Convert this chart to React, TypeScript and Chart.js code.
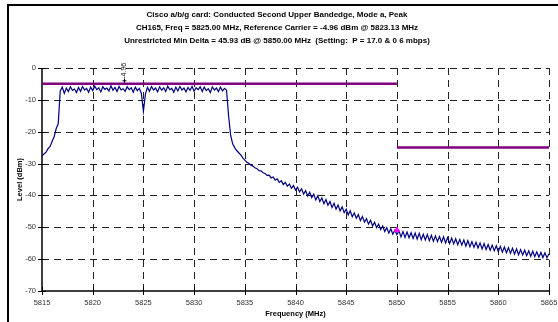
import React, { useEffect, useRef } from "react";
import { Chart, registerables } from "chart.js";

Chart.register(...registerables);

// ---------- Data ----------
const titleLines = [
  "Cisco a/b/g card: Conducted Second Upper Bandedge, Mode a, Peak",
  "CH165, Freq = 5825.00 MHz, Reference Carrier = -4.96 dBm @ 5823.13 MHz",
  "Unrestricted Min Delta = 45.93 dB @ 5850.00 MHz  (Setting:  P = 17.0 & 0 6 mbps)",
];
const xTitle = "Frequency (MHz)";
const yTitle = "Level (dBm)";

const xTicks = [5815, 5820, 5825, 5830, 5835, 5840, 5845, 5850, 5855, 5860, 5865];
const yTicks = [0, -10, -20, -30, -40, -50, -60, -70];

const FREQ_STEP = 0.2; // MHz between trace samples

const rampStart = 5815.0;
const rampLevels = [-27.6, -27.0, -26.4, -25.3, -24.6, -23.0, -21.6, -19.0, -17.5];

const bandStart = 5816.8;
const bandLevels = [
  -7.2, -6.0, -8.0, -6.3, -7.4, -5.9, -7.0, -6.6, -7.7, -6.1,
  -7.3, -5.8, -6.9, -6.4, -7.6, -6.0, -7.1, -5.7, -6.8, -6.2,
  -7.5, -5.9, -6.7, -6.3, -7.2, -5.6, -7.0, -6.1, -7.4, -5.8,
  -6.9, -6.5, -7.3, -5.9, -6.8, -6.2, -7.6, -6.0, -7.1, -6.4,
  -8.0, -13.6, -8.2, -6.1, -7.3, -5.8, -6.9, -6.3, -7.5, -5.9,
  -7.0, -6.2, -7.4, -5.7, -6.8, -6.4, -7.6, -6.0, -7.2, -5.8,
  -6.9, -6.3, -7.5, -6.1, -7.0, -5.8, -7.3, -6.2, -6.8, -5.9,
  -7.4, -6.0, -7.1, -6.5, -7.7, -5.9, -6.9, -6.3, -7.4, -6.0,
  -7.2, -6.4, -7.0,
];

const skirtStart = 5833.4;
const skirtLevels = [
  -15.0, -21.0, -23.8, -25.0, -25.9, -26.6, -27.3, -28.2, -28.9, -29.6,
  -29.9, -30.5, -30.8, -31.3, -31.6, -32.2, -32.3, -32.9, -33.1, -33.7,
  -33.6, -34.5, -34.2, -35.2, -34.8, -35.9, -35.4, -36.6, -35.9, -37.1,
  -36.4, -37.8, -36.9, -38.3, -37.4, -38.9, -37.9, -39.6, -38.5, -40.2,
  -39.0, -40.7, -39.6, -41.4, -40.1, -41.9, -40.8, -42.6, -41.3, -43.1,
  -41.9, -43.8, -42.5, -44.3, -43.0, -44.9, -43.6, -45.4, -44.3, -46.1,
  -44.8, -46.7, -45.5, -47.2, -46.0, -47.9, -46.6, -48.4, -47.3, -49.0,
  -47.8, -49.6, -48.4, -50.1, -49.0, -50.7, -49.6, -51.3, -50.1, -51.8,
  -50.5, -52.2, -50.9, -52.3,
];

const tailStart = 5850.2;
const tailLevels = [
  -51.1, -53.0, -51.3, -53.2, -51.5, -53.3, -51.7, -53.5, -51.8, -53.7,
  -51.9, -53.9, -52.2, -54.0, -52.3, -54.2, -52.5, -54.4, -52.7, -54.5,
  -52.9, -54.7, -53.0, -54.9, -53.2, -55.1, -53.4, -55.2, -53.6, -55.5,
  -53.8, -55.6, -54.0, -55.9, -54.2, -56.1, -54.5, -56.3, -54.7, -56.5,
  -54.9, -56.8, -55.1, -57.0, -55.4, -57.2, -55.6, -57.4, -55.8, -57.6,
  -56.0, -57.8, -56.2, -58.0, -56.4, -58.2, -56.6, -58.4, -56.8, -58.6,
  -57.0, -58.7, -57.2, -58.9, -57.4, -59.1, -57.5, -59.2, -57.7, -59.4,
  -57.9, -59.5, -58.0, -59.6, -58.3,
];

const limitUpperFreqs = [5815, 5850];
const limitUpperLevel = -4.96;
const limitLowerFreqs = [5850, 5865];
const limitLowerLevel = -24.96;

const refCarrierFreq = 5823.13;
const refCarrierLevel = -4.96;
const refCarrierLabel = "-4.96";

const deltaFreq = 5850.0;
const deltaLevel = -50.89;

// ---------- helpers ----------
function segment(start: number, levels: number[]) {
  return levels.map((y, i) => ({ x: +(start + i * FREQ_STEP).toFixed(2), y }));
}

const FONT = "'Liberation Sans', Arial, sans-serif";

const drawPlugin = {
  id: "customDraw",
  beforeDraw(chart: any) {
    const ctx = chart.ctx;
    ctx.save();
    ctx.fillStyle = "#fff";
    ctx.fillRect(0, 0, chart.width, chart.height);
    // outer frame
    ctx.strokeStyle = "#000";
    ctx.lineWidth = 2;
    ctx.beginPath();
    ctx.moveTo(8, chart.height);
    ctx.lineTo(8, 5);
    ctx.lineTo(chart.width, 5);
    ctx.stroke();
    // title
    ctx.fillStyle = "#000";
    ctx.font = `bold 8px ${FONT}`;
    ctx.textAlign = "center";
    ctx.textBaseline = "middle";
    const ty = [14.5, 28, 41];
    titleLines.forEach((t, i) => ctx.fillText(t, 277, ty[i]));
    ctx.restore();
  },
  beforeDatasetsDraw(chart: any) {
    const ctx = chart.ctx;
    const xs = chart.scales.x;
    const ys = chart.scales.y;
    const { left, right, top, bottom } = chart.chartArea;
    ctx.save();
    // dashed grid
    ctx.strokeStyle = "#222";
    ctx.lineWidth = 1;
    ctx.setLineDash([7, 5]);
    xTicks.forEach((v) => {
      if (v === xTicks[0]) return;
      const px = Math.round(xs.getPixelForValue(v)) + 0.5;
      ctx.beginPath();
      ctx.moveTo(px, top);
      ctx.lineTo(px, bottom);
      ctx.stroke();
    });
    yTicks.forEach((v) => {
      if (v === yTicks[yTicks.length - 1]) return;
      const py = Math.round(ys.getPixelForValue(v)) + 0.5;
      ctx.beginPath();
      ctx.moveTo(left, py);
      ctx.lineTo(right, py);
      ctx.stroke();
    });
    ctx.setLineDash([]);
    // axes
    ctx.strokeStyle = "#000";
    ctx.lineWidth = 1.5;
    ctx.beginPath();
    ctx.moveTo(left, top);
    ctx.lineTo(left, bottom);
    ctx.lineTo(right, bottom);
    ctx.stroke();
    // tick marks
    ctx.lineWidth = 1;
    yTicks.forEach((v) => {
      const py = Math.round(ys.getPixelForValue(v)) + 0.5;
      ctx.beginPath();
      ctx.moveTo(left - 4, py);
      ctx.lineTo(left + 4, py);
      ctx.stroke();
    });
    xTicks.forEach((v) => {
      const px = Math.round(xs.getPixelForValue(v)) + 0.5;
      ctx.beginPath();
      ctx.moveTo(px, bottom - 4);
      ctx.lineTo(px, bottom + 4);
      ctx.stroke();
    });
    // tick labels
    ctx.fillStyle = "#333";
    ctx.font = `7.5px ${FONT}`;
    ctx.textBaseline = "middle";
    ctx.textAlign = "right";
    yTicks.forEach((v) => {
      ctx.fillText(String(v), left - 6, ys.getPixelForValue(v));
    });
    ctx.textAlign = "center";
    xTicks.forEach((v) => {
      ctx.fillText(String(v), xs.getPixelForValue(v), bottom + 12);
    });
    // axis titles
    ctx.fillStyle = "#000";
    ctx.font = `bold 7.5px ${FONT}`;
    ctx.fillText(xTitle, (left + right) / 2, bottom + 23);
    ctx.save();
    ctx.translate(20, (top + bottom) / 2);
    ctx.rotate(-Math.PI / 2);
    ctx.fillText(yTitle, 0, 0);
    ctx.restore();
    ctx.restore();
  },
  afterDatasetsDraw(chart: any) {
    const ctx = chart.ctx;
    const xs = chart.scales.x;
    const ys = chart.scales.y;
    const px = xs.getPixelForValue(refCarrierFreq);
    const py = ys.getPixelForValue(refCarrierLevel);
    ctx.save();
    ctx.fillStyle = "#000";
    ctx.strokeStyle = "#000";
    ctx.lineWidth = 1;
    ctx.beginPath();
    ctx.moveTo(px - 2, py - 3);
    ctx.lineTo(px + 2, py - 3);
    ctx.moveTo(px, py - 5);
    ctx.lineTo(px, py - 1);
    ctx.stroke();
    ctx.font = `7px ${FONT}`;
    ctx.textAlign = "center";
    ctx.textBaseline = "middle";
    ctx.translate(px, py - 13);
    ctx.rotate(-Math.PI / 2);
    ctx.fillText(refCarrierLabel, 0, 0);
    ctx.restore();
  },
};

export default function App() {
  const ref = useRef<HTMLCanvasElement | null>(null);
  useEffect(() => {
    if (!ref.current) return;
    const trace = [
      ...segment(rampStart, rampLevels),
      ...segment(bandStart, bandLevels),
      ...segment(skirtStart, skirtLevels),
      ...segment(tailStart, tailLevels),
    ];
    const chart = new Chart(ref.current, {
      type: "line",
      data: {
        datasets: [
          {
            label: "Trace",
            data: trace,
            borderColor: "#000080",
            borderWidth: 1.2,
            pointRadius: 0,
            tension: 0,
            order: 1,
          },
          {
            label: "Limit",
            data: limitUpperFreqs.map((x) => ({ x, y: limitUpperLevel })),
            borderColor: "#800080",
            borderWidth: 2.5,
            pointRadius: 0,
            order: 2,
          },
          {
            label: "Limit 2",
            data: limitLowerFreqs.map((x) => ({ x, y: limitLowerLevel })),
            borderColor: "#800080",
            borderWidth: 2.5,
            pointRadius: 0,
            order: 2,
          },
          {
            label: "Delta",
            data: [{ x: deltaFreq, y: deltaLevel }],
            borderColor: "#FF00FF",
            backgroundColor: "#FF00FF",
            pointStyle: "triangle",
            pointRadius: 3,
            showLine: false,
            order: 0,
          },
        ],
      },
      options: {
        responsive: false,
        animation: false,
        devicePixelRatio: 1,
        layout: { padding: { left: 0, right: 9, top: 68, bottom: 0 } },
        plugins: { legend: { display: false }, tooltip: { enabled: false }, title: { display: false } },
        scales: {
          x: {
            type: "linear",
            min: 5815,
            max: 5865,
            grid: { display: false },
            border: { display: false },
            ticks: { display: false, stepSize: 5 },
            afterFit: (s: any) => { s.height = 31; },
          },
          y: {
            type: "linear",
            min: -70,
            max: 0,
            grid: { display: false },
            border: { display: false },
            ticks: { display: false, stepSize: 10 },
            afterFit: (s: any) => { s.width = 42; },
          },
        },
      },
      plugins: [drawPlugin],
    });
    return () => chart.destroy();
  }, []);
  return (
    <div style={{ position: "absolute", left: 0, top: 0, width: 558, height: 322 }}>
      <canvas ref={ref} width={558} height={322} style={{ display: "block" }} />
    </div>
  );
}
